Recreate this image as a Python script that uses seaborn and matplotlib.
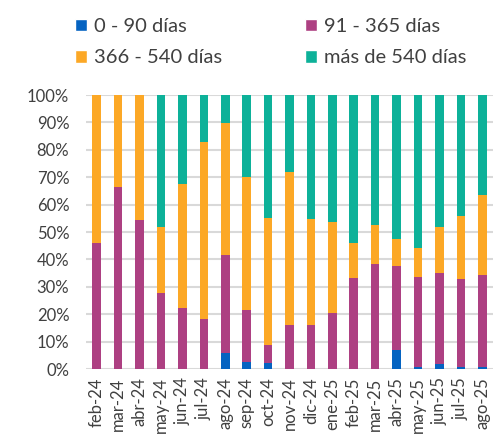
import matplotlib
matplotlib.use("Agg")
import matplotlib.pyplot as plt
from matplotlib.patches import Patch
from matplotlib.ticker import PercentFormatter
import numpy as np
import pandas as pd
import seaborn as sns

# ── datos (porcentaje de cada tramo por mes) ─────────────────────────────────
meses = ["feb-24", "mar-24", "abr-24", "may-24", "jun-24", "jul-24", "ago-24",
         "sep-24", "oct-24", "nov-24", "dic-24", "ene-25", "feb-25", "mar-25",
         "abr-25", "may-25", "jun-25", "jul-25", "ago-25"]
d0_90 = [0, 0, 0, 0, 0, 0, 5.7, 2.4, 2.2, 0, 0, 0, 0, 0, 7.0, 0.6, 1.7, 0.7, 0.9]
d91_365 = [46.0, 66.5, 54.5, 27.9, 22.2, 18.2, 36.0, 19.1, 6.6, 15.9, 16.2, 20.6,
           33.2, 38.5, 30.7, 33.1, 33.5, 32.3, 33.4]
d366_540 = [54.0, 33.5, 45.5, 23.9, 45.5, 64.8, 48.1, 48.5, 46.3, 55.9, 38.4, 33.1,
            12.9, 14.2, 9.7, 10.6, 16.5, 22.9, 29.1]
d_mas540 = [0, 0, 0, 48.2, 32.3, 17.0, 10.2, 30.0, 44.9, 28.2, 45.4, 46.3,
            53.9, 47.3, 52.6, 55.7, 48.3, 44.1, 36.6]

series = [("0 - 90 días", d0_90, "#0563C1"),
          ("91 - 365 días", d91_365, "#AD4082"),
          ("366 - 540 días", d366_540, "#FCA826"),
          ("más de 540 días", d_mas540, "#0DB199")]

sns.set_theme(style="white")
plt.rcParams["font.family"] = ["Lato", "DejaVu Sans"]
TXT = "#404040"

fig = plt.figure(figsize=(4.94, 4.36), dpi=100)
ax = fig.add_axes([86 / 494, 67 / 436, 407 / 494, 274 / 436])

base = np.zeros(len(meses))
for nombre, vals, col in series:
    v = np.array(vals) / 100
    df = pd.DataFrame({"mes": meses, "valor": v})
    sns.barplot(data=df, x="mes", y="valor", bottom=base, color=col, width=0.4,
                saturation=1, errorbar=None, linewidth=0, ax=ax, zorder=3)
    base = base + v

ax.set_ylim(0, 1)
ax.set_xlim(-0.5, len(meses) - 0.5)
ax.set_yticks(np.arange(0, 1.01, 0.1))
ax.yaxis.set_major_formatter(PercentFormatter(1, decimals=0))
ax.grid(axis="y", color="#D9D9D9", lw=1.5, zorder=0)
ax.set_xlabel(""); ax.set_ylabel("")
for s in ax.spines.values():
    s.set_visible(False)
ax.tick_params(axis="y", length=0, pad=12, labelsize=12, labelcolor=TXT)
ax.tick_params(axis="x", length=0, pad=6, labelsize=12, labelcolor=TXT, rotation=90)

# orden para que la leyenda se lea por filas
orden = [0, 2, 1, 3]
handles = [Patch(facecolor=series[i][2], label=series[i][0]) for i in orden]
fig.legend(handles=handles, ncol=2, loc="upper left", bbox_to_anchor=(0.115, 1.0),
           frameon=False, fontsize=14.5, handlelength=0.6, handleheight=0.6,
           handletextpad=0.35, columnspacing=4.1, labelspacing=0.7, labelcolor=TXT)

fig.savefig("out.png", dpi=100)
